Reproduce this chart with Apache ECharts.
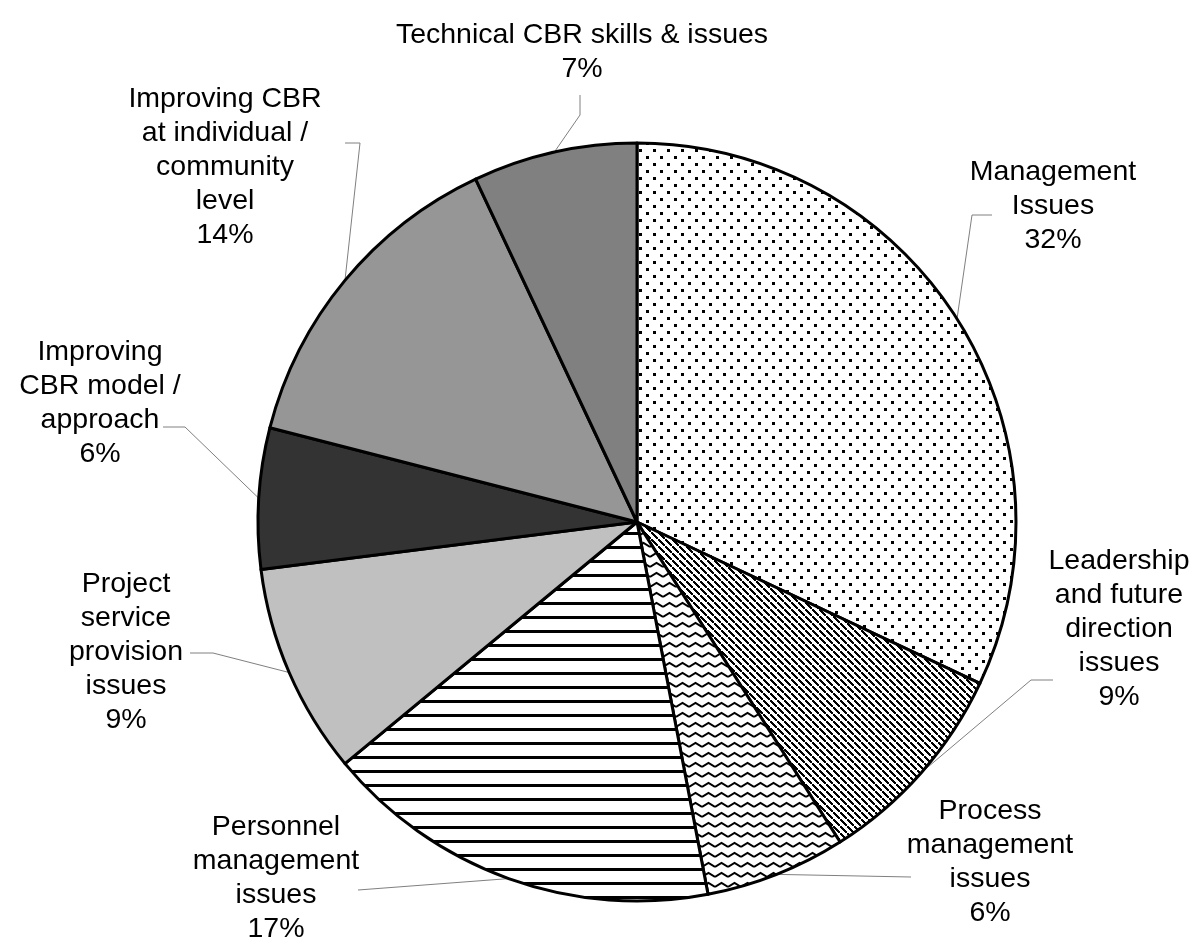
<!DOCTYPE html>
<html>
<head>
<meta charset="utf-8">
<script src="https://cdn.jsdelivr.net/npm/echarts@6/dist/echarts.min.js"></script>
<style>
  html, body { margin: 0; padding: 0; background: #fff; }
</style>
</head>
<body>
<div id="main" style="width: 1200px; height: 948px"></div>
<script>
// slice names (with the original line breaks) and their shares in %
var names = [
  'Management\nIssues',
  'Leadership\nand future\ndirection\nissues',
  'Process\nmanagement\nissues',
  'Personnel\nmanagement\nissues',
  'Project\nservice\nprovision\nissues',
  'Improving\nCBR model /\napproach',
  'Improving CBR\nat individual /\ncommunity\nlevel',
  'Technical CBR skills & issues'
]
var shares = [32, 9, 6, 17, 9, 6, 14, 7]

// where each label sits, and the leader line bend / end
var labelPos = [[1053, 206], [1119, 629], [990, 862], [276, 878], [126, 652], [100, 403], [225, 167], [582, 52]]
var leader = [
  [[972, 215], [992, 215]],
  [[1031, 680], [1053, 680]],
  [[911, 877]],
  [[358, 890]],
  [[213, 653], [190, 653]],
  [[185, 427], [163, 427]],
  [[360, 143], [345, 143]],
  [[580, 115], [580, 95]]
]

function tile(w, h, draw) {
  var c = document.createElement('canvas')
  c.width = w
  c.height = h
  var ctx = c.getContext('2d')
  ctx.fillStyle = '#fff'
  ctx.fillRect(0, 0, w, h)
  ctx.fillStyle = '#000'
  ctx.strokeStyle = '#000'
  draw(ctx)
  return { image: c, repeat: 'repeat' }
}

var dots = tile(14, 14, function (ctx) {
  ctx.fillRect(2, 2, 3, 3)
  ctx.fillRect(9, 9, 3, 3)
})
var diag = tile(7, 7, function (ctx) {
  for (var i = -1; i < 8; i++) ctx.fillRect(i, i, 2, 2)
  ctx.fillRect(6, -1, 1, 1)
})
var wave = tile(13, 10, function (ctx) {
  ctx.lineWidth = 2
  ctx.beginPath()
  ctx.moveTo(0, 7)
  ctx.lineTo(6.5, 3)
  ctx.lineTo(13, 7)
  ctx.stroke()
})
var stripes = tile(4, 14, function (ctx) {
  ctx.fillRect(0, 0, 4, 3)
})

var fills = [dots, diag, wave, stripes, '#c0c0c0', '#333333', '#969696', '#808080']

var myChart = echarts.init(document.getElementById('main'))

var option = {
  animation: false,
  backgroundColor: '#fff',
  series: [
    {
      type: 'pie',
      center: [637, 522],
      radius: 379,
      startAngle: 90,
      clockwise: true,
      avoidLabelOverlap: false,
      itemStyle: {
        borderColor: '#000',
        borderWidth: 3
      },
      label: {
        show: true,
        position: 'outside',
        formatter: '{b}\n{c}%',
        color: '#000',
        fontFamily: 'Liberation Sans, Arial, sans-serif',
        fontSize: 28.5,
        lineHeight: 34,
        align: 'center'
      },
      labelLine: {
        show: true,
        lineStyle: { color: '#808080', width: 1 }
      },
      labelLayout: function (params) {
        var i = params.dataIndex
        var start = params.labelLinePoints ? params.labelLinePoints[0] : null
        var pts = start ? [start].concat(leader[i]) : undefined
        return {
          x: labelPos[i][0],
          y: labelPos[i][1],
          align: 'center',
          verticalAlign: 'middle',
          labelLinePoints: pts
        }
      },
      data: names.map(function (n, i) {
        return { name: n, value: shares[i], itemStyle: { color: fills[i] } }
      })
    }
  ]
}

myChart.setOption(option)
</script>
</body>
</html>
